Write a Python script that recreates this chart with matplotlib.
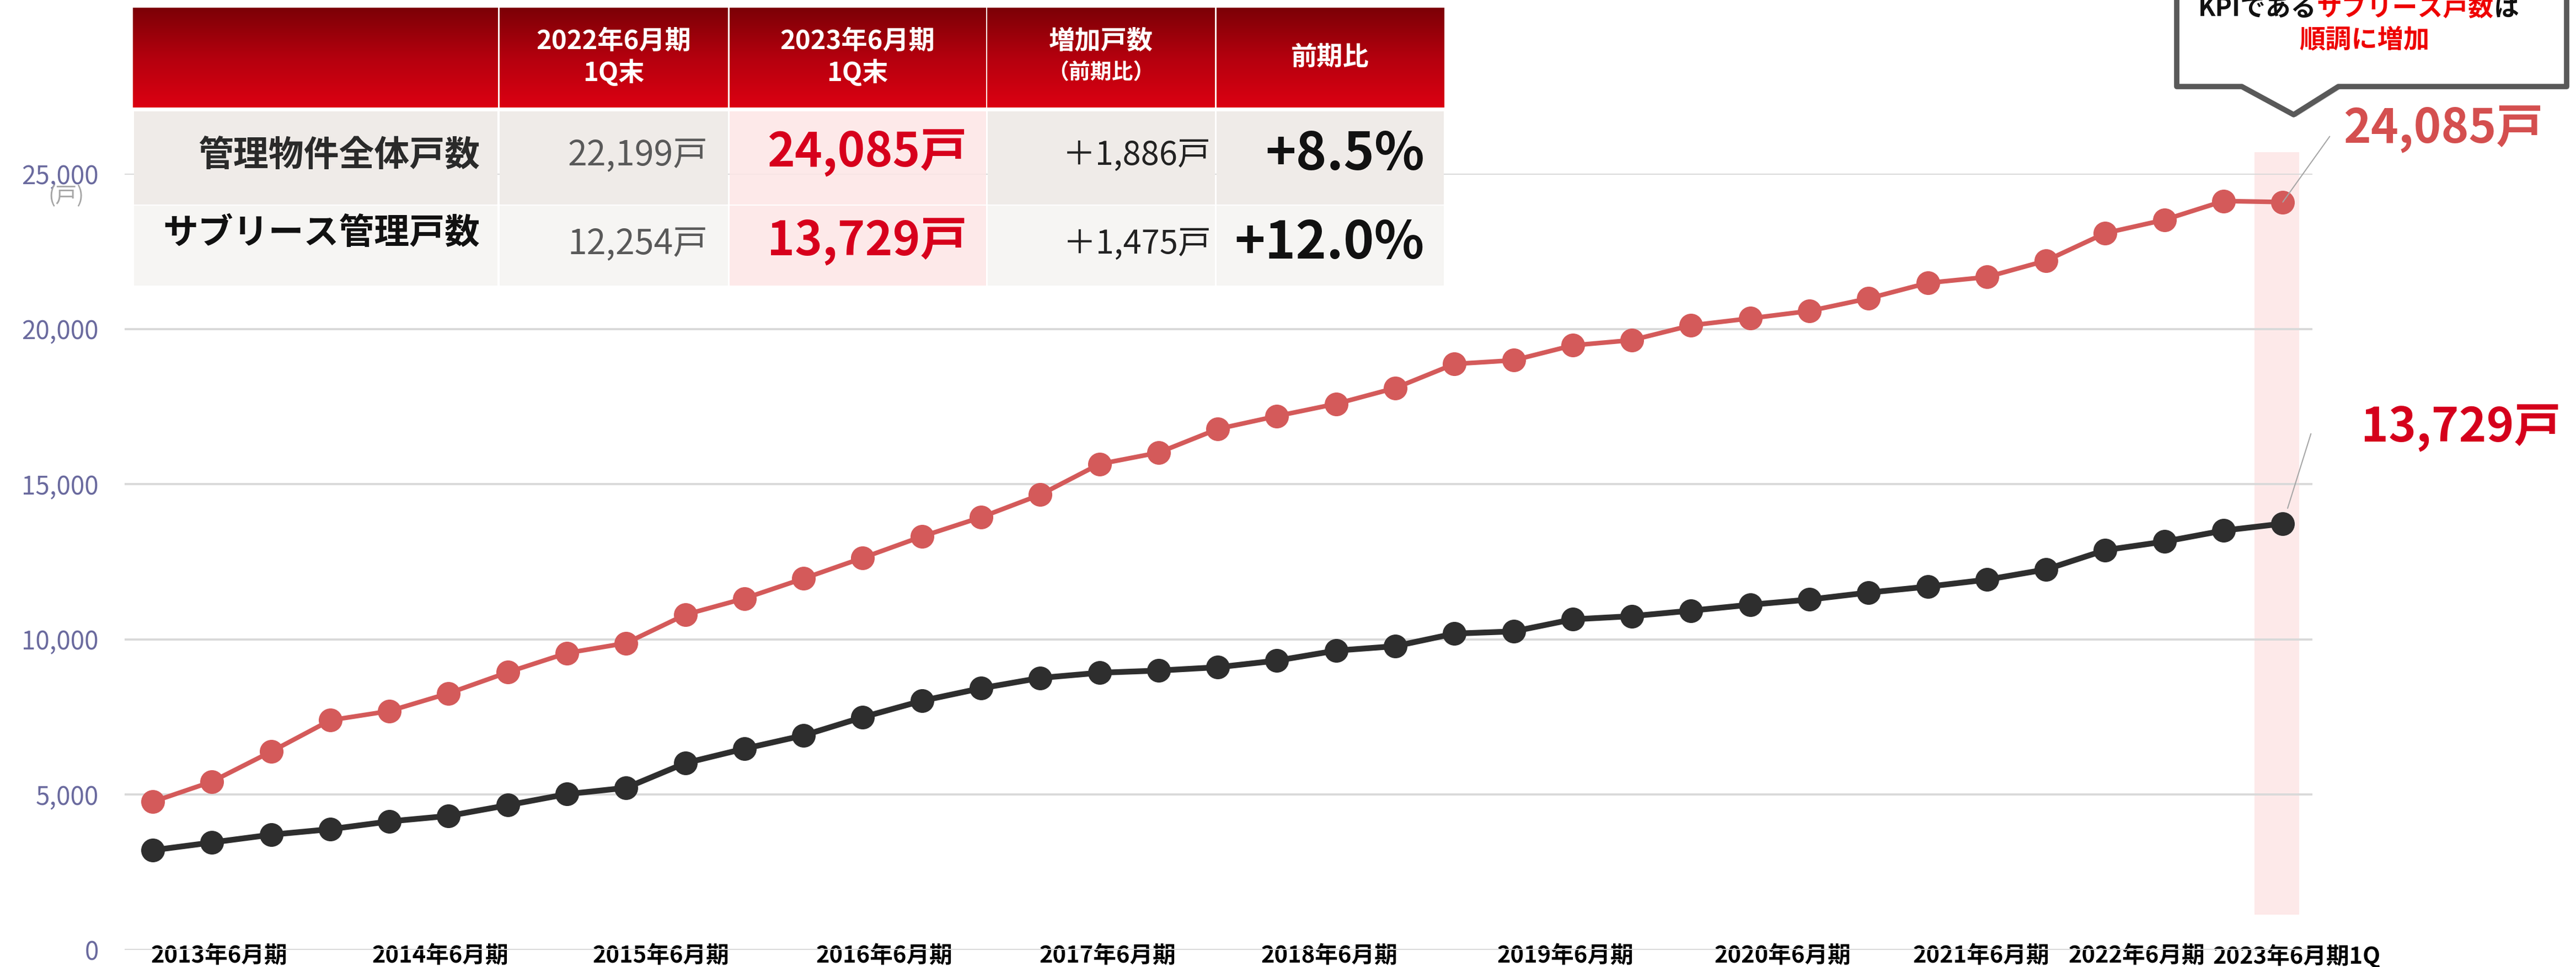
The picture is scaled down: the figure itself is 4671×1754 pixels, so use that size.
import numpy as np
import matplotlib
matplotlib.use('Agg')
import matplotlib.pyplot as plt
from matplotlib.patches import Rectangle, Polygon
from matplotlib.colors import LinearSegmentedColormap
import matplotlib.patheffects as pe

plt.rcParams['font.family'] = ['Noto Sans CJK JP', 'DejaVu Sans']

# %% Data (quarterly, 2013年6月期 -> 2023年6月期1Q)
total_units = [4770, 5420, 6385, 7396, 7693, 8264, 8941, 9560, 9881, 10796,
               11319, 11961, 12627, 13315, 13934, 14660, 15647, 16016, 16777,
               17193, 17586, 18097, 18871, 18990, 19470, 19639, 20114, 20340,
               20578, 20982, 21481, 21671, 22199, 23085, 23513, 24119, 24085]
sublease_units = [3210, 3460, 3710, 3888, 4138, 4316, 4661, 5018, 5220, 6016,
                  6480, 6908, 7495, 8022, 8426, 8759, 8926, 8997, 9104, 9318,
                  9639, 9782, 10187, 10258, 10646, 10749, 10927, 11117, 11284,
                  11509, 11700, 11925, 12254, 12876, 13150, 13506, 13729]
x_labels = ['2013年6月期', '2014年6月期', '2015年6月期', '2016年6月期',
            '2017年6月期', '2018年6月期', '2019年6月期', '2020年6月期',
            '2021年6月期', '2022年6月期', '2023年6月期1Q']
x_label_pos = [1.12, 4.86, 8.59, 12.36, 16.14, 19.89, 23.87, 27.55, 30.9, 33.53, 36.24]
y_ticks = [0, 5000, 10000, 15000, 20000, 25000]

# table contents
table_header = ['2022年6月期', '2023年6月期', '増加戸数', '前期比']
table_header_sub = ['1Q末', '1Q末', '（前期比）', '']
row_labels = ['管理物件全体戸数', 'サブリース管理戸数']
prev_values = ['22,199戸', '12,254戸']
curr_values = ['24,085戸', '13,729戸']
diff_values = ['＋1,886戸', '＋1,475戸']
ratio_values = ['+8.5%', '+12.0%']

# callout text pieces (text, colour)
callout_line1 = [('KPIである', '#111111'), ('サブリース戸数', '#ee0000'), ('は', '#111111')]
callout_line2 = '順調に増加'

# %% Figure geometry (pixels)
W, H = 4671, 1754
fig = plt.figure(figsize=(W / 100, H / 100), dpi=100)


def fx(px):
    return px / W


def fy(py):
    return 1 - py / H


def rect(x0, y0, x1, y1, color, **kw):
    fig.patches.append(Rectangle((fx(x0), fy(y1)), fx(x1) - fx(x0), fy(y0) - fy(y1),
                                 transform=fig.transFigure, facecolor=color,
                                 edgecolor='none', **kw))


# %% Main chart
ax = fig.add_axes([fx(226), fy(1723), fx(4193) - fx(226), fy(315) - fy(1723)])
x = np.arange(len(total_units))

# highlight band on latest quarter
ax.bar(x[-1] - 0.1, 25700 - 1140, bottom=1140, width=0.75, color='#fde9e9',
       zorder=0.2, clip_on=False)

ax.plot(x, total_units, color='#d45a5a', lw=6, marker='o', ms=30, zorder=3)
ax.plot(x, sublease_units, color='#2e2e2e', lw=7.5, marker='o', ms=30, zorder=3)

ax.set_xlim(-0.475, 36.5)
ax.set_ylim(0, 25000)
ax.set_yticks(y_ticks, [f'{v:,}' for v in y_ticks])
ax.set_xticks(x_label_pos, x_labels)
ax.tick_params(axis='y', length=0, pad=34, labelsize=33, labelcolor='#6a6a9e')
ax.tick_params(axis='x', length=0, pad=-7, labelsize=30)
for lab in ax.get_xticklabels():
    lab.set_fontweight('bold')
ax.yaxis.grid(True, color='#d9d9d9', lw=2.8)
ax.set_axisbelow(True)
for s in ax.spines.values():
    s.set_visible(False)

# callouts for the last values
ax.annotate('', xy=(x[-1], total_units[-1]), xytext=(85, 119),
            textcoords='offset pixels',
            arrowprops=dict(arrowstyle='-', color='#a6a6a6', lw=1.5,
                            shrinkA=0, shrinkB=0))
ax.annotate(curr_values[0], xy=(x[-1], total_units[-1]), xytext=(110, 132),
            textcoords='offset pixels', ha='left', va='center',
            fontsize=61, fontweight='bold', color='#d44f4f')
ax.annotate('', xy=(x[-1], sublease_units[-1]), xytext=(51, 163),
            textcoords='offset pixels',
            arrowprops=dict(arrowstyle='-', color='#a6a6a6', lw=1.5,
                            shrinkA=0, shrinkB=21))
ax.annotate(curr_values[1], xy=(x[-1], sublease_units[-1]), xytext=(142, 173),
            textcoords='offset pixels', ha='left', va='center',
            fontsize=61, fontweight='bold', color='#d5001c')

fig.text(fx(120), fy(356), '(戸)', ha='center', va='center', fontsize=28,
         color='#a6a6a6')

# %% Table
cx = [241, 904, 1321, 1789, 2204, 2619]
hax = fig.add_axes([fx(241), fy(195), fx(2619) - fx(241), fy(14) - fy(195)])
grad = LinearSegmentedColormap.from_list('hdr', ['#7c0006', '#b4000e', '#dc0012'])
hax.imshow(np.linspace(0, 1, 256).reshape(-1, 1), aspect='auto', cmap=grad,
           extent=[0, 1, 0, 1])
hax.axis('off')
for c in cx[1:-1]:
    rect(c - 1.5, 14, c + 1.5, 195, 'white')

row_y = [(202, 371), (373, 518)]
row_bg = ['#efebe8', '#f6f5f3']
for (y0, y1), bg in zip(row_y, row_bg):
    for i in range(5):
        color = '#fde6e6' if i == 2 else bg
        rect(cx[i] + 1.5, y0, cx[i + 1] - 1.5, y1, color,
             alpha=0.85 if i == 2 else 1)

for i, (h, sub) in enumerate(zip(table_header, table_header_sub)):
    xc = (cx[i + 1] + cx[i + 2]) / 2
    if sub:
        fig.text(fx(xc), fy(75), h, ha='center', va='center', fontsize=34,
                 fontweight='bold', color='white')
        fig.text(fx(xc), fy(132), sub, ha='center', va='center',
                 fontsize=34 if i < 2 else 28, fontweight='bold', color='white')
    else:
        fig.text(fx(xc), fy(104), h, ha='center', va='center', fontsize=34,
                 fontweight='bold', color='white')

label_y = [282, 423]
value_y = [282, 443]
for r in range(2):
    fig.text(fx(870), fy(label_y[r]), row_labels[r], ha='right', va='center',
             fontsize=46, fontweight='bold', color='#2a2a2a' if r == 0 else '#111111')
    fig.text(fx(1283), fy(value_y[r]), prev_values[r], ha='right', va='center',
             fontsize=45, color='#595959')
    fig.text(fx(1753), fy(value_y[r] - 4), curr_values[r], ha='right', va='center',
             fontsize=61, fontweight='bold', color='#d7001c')
    fig.text(fx(2196), fy(value_y[r]), diff_values[r], ha='right', va='center',
             fontsize=43, color='#222222')
    fig.text(fx(2583), fy(value_y[r] - 2), ratio_values[r], ha='right', va='center',
             fontsize=68, fontweight='bold', color='#111111')

# %% Speech bubble
bubble = [(3947, -80), (4654, -80), (4654, 157), (4240, 157), (4159, 208),
          (4065, 157), (3947, 157)]
poly = Polygon([(fx(a), fy(b)) for a, b in bubble], closed=True,
               transform=fig.transFigure, facecolor='white', edgecolor='#595959',
               lw=7, joinstyle='round')
poly.set_path_effects([pe.SimplePatchShadow(offset=(3, -3), shadow_rgbFace='#888888',
                                            alpha=0.5), pe.Normal()])
fig.patches.append(poly)

renderer = fig.canvas.get_renderer()
xpos = fx(3986)
for part, col in callout_line1:
    t = fig.text(xpos, fy(16), part, ha='left', va='center', fontsize=33,
                 fontweight='bold', color=col)
    xpos += t.get_window_extent(renderer).width / W
fig.text(fx(4287), fy(72), callout_line2, ha='center', va='center', fontsize=34,
         fontweight='bold', color='#ee0000')

fig.savefig('out.png', dpi=100)
